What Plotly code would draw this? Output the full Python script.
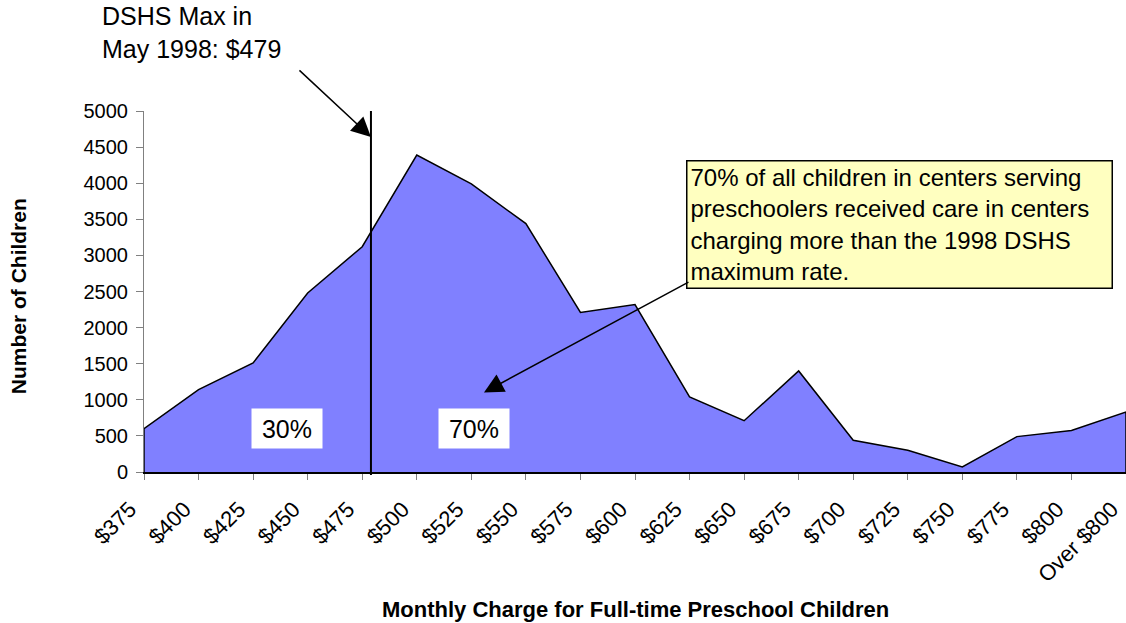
import plotly.graph_objects as go

# Monthly charge bins and number of children in each bin
categories = ["$375", "$400", "$425", "$450", "$475", "$500", "$525", "$550",
              "$575", "$600", "$625", "$650", "$675", "$700", "$725", "$750",
              "$775", "$800", "Over $800"]
children = [600, 1140, 1510, 2480, 3120, 4390, 3990, 3440, 2210, 2320,
            1040, 710, 1400, 440, 300, 70, 490, 575, 830]
y_ticks = [0, 500, 1000, 1500, 2000, 2500, 3000, 3500, 4000, 4500, 5000]

# DSHS maximum rate (May 1998) and the bin spacing used to place it on the axis
dshs_max = 479
first_bin = 375
bin_width = 25

share_below = "30%"
share_above = "70%"

FONT = "Liberation Sans, Arial, sans-serif"

idx = list(range(len(categories)))
dshs_pos = (dshs_max - first_bin) / bin_width

fig = go.Figure()

# Closed area polygon so the outline runs along the baseline too
fig.add_trace(go.Scatter(
    x=[idx[0]] + idx + [idx[-1]],
    y=[0] + children + [0],
    mode="lines",
    fill="toself",
    fillcolor="#8080FF",
    line=dict(color="black", width=1.5),
    hoverinfo="skip",
    showlegend=False,
))

# Vertical marker at the DSHS maximum
fig.add_shape(type="line", xref="x", yref="paper",
              x0=dshs_pos, x1=dshs_pos, y0=-0.008, y1=1.0,
              line=dict(color="black", width=2))

annotations = [
    # Label for the DSHS maximum
    dict(text="DSHS Max in<br>May 1998: $479", xref="paper", yref="paper",
         x=-0.0448, y=1.307, xanchor="left", yanchor="top", align="left",
         showarrow=False, font=dict(size=25, family=FONT, color="black")),
    # Arrow pointing to the marker line
    dict(text="", xref="x", yref="y", x=dshs_pos, y=4640,
         ax=-73, ay=-68, axref="pixel", ayref="pixel",
         showarrow=True, arrowhead=2, arrowsize=2.6, arrowwidth=1.5,
         arrowcolor="black", standoff=0),
    # Explanatory note
    dict(text="70% of all children in centers serving<br>"
              "preschoolers received care in centers<br>"
              "charging more than the 1998 DSHS<br>"
              "maximum rate.",
         xref="paper", yref="paper", x=0.552, y=0.863,
         xanchor="left", yanchor="top", align="left", showarrow=False,
         bgcolor="#FFFFC0", bordercolor="black", borderwidth=1.5, borderpad=3,
         width=418, height=120,
         font=dict(size=24, family=FONT, color="black")),
    # Arrow from the note to the 70% label
    dict(text="", xref="paper", yref="paper", x=0.3462, y=0.2205,
         ax=206, ay=-111, axref="pixel", ayref="pixel",
         showarrow=True, arrowhead=2, arrowsize=2.6, arrowwidth=1.5,
         arrowcolor="black", standoff=0),
    # Share labels either side of the marker
    dict(text=share_below, xref="paper", yref="paper", x=0.1453, y=0.121,
         xanchor="center", yanchor="middle", showarrow=False,
         bgcolor="white", width=64, height=33, borderpad=3,
         font=dict(size=25, family=FONT, color="black")),
    dict(text=share_above, xref="paper", yref="paper", x=0.3357, y=0.121,
         xanchor="center", yanchor="middle", showarrow=False,
         bgcolor="white", width=64, height=33, borderpad=3,
         font=dict(size=25, family=FONT, color="black")),
    # Axis titles
    dict(text="<b>Monthly Charge for Full-time Preschool Children</b>",
         xref="paper", yref="paper", x=0.5, y=-0.38,
         xanchor="center", yanchor="middle", showarrow=False,
         font=dict(size=22, family=FONT, color="black")),
    dict(text="<b>Number of Children</b>", textangle=-90,
         xref="paper", yref="paper", x=-0.1283, y=0.487,
         xanchor="center", yanchor="middle", showarrow=False,
         font=dict(size=21, family=FONT, color="black")),
]

fig.update_layout(
    width=1126, height=623, autosize=False,
    margin=dict(l=144, r=0, t=111, b=151, pad=0),
    paper_bgcolor="white", plot_bgcolor="white",
    font=dict(family=FONT, color="black", size=20),
    showlegend=False,
    annotations=annotations,
)

fig.update_xaxes(
    range=[0, len(categories) - 1],
    tickmode="array", tickvals=idx, ticktext=categories,
    tickangle=-45, ticks="outside", ticklen=6, tickwidth=1, tickcolor="#808080",
    ticklabelstandoff=8, ticklabelshift=-14, ticklabeloverflow="allow",
    showgrid=False, zeroline=False,
    showline=True, linecolor="black", linewidth=1.5,
    tickfont=dict(size=22, family=FONT, color="black"),
    automargin=False, fixedrange=True,
)

fig.update_yaxes(
    range=[0, 5000],
    tickmode="array", tickvals=y_ticks,
    ticks="outside", ticklen=7, tickwidth=1, tickcolor="#808080",
    ticklabelstandoff=4,
    showgrid=False, zeroline=False,
    showline=True, linecolor="#808080", linewidth=1,
    layer="below traces",
    tickfont=dict(size=20, family=FONT, color="black"),
    automargin=False, fixedrange=True,
)

fig.write_html("out.html")
